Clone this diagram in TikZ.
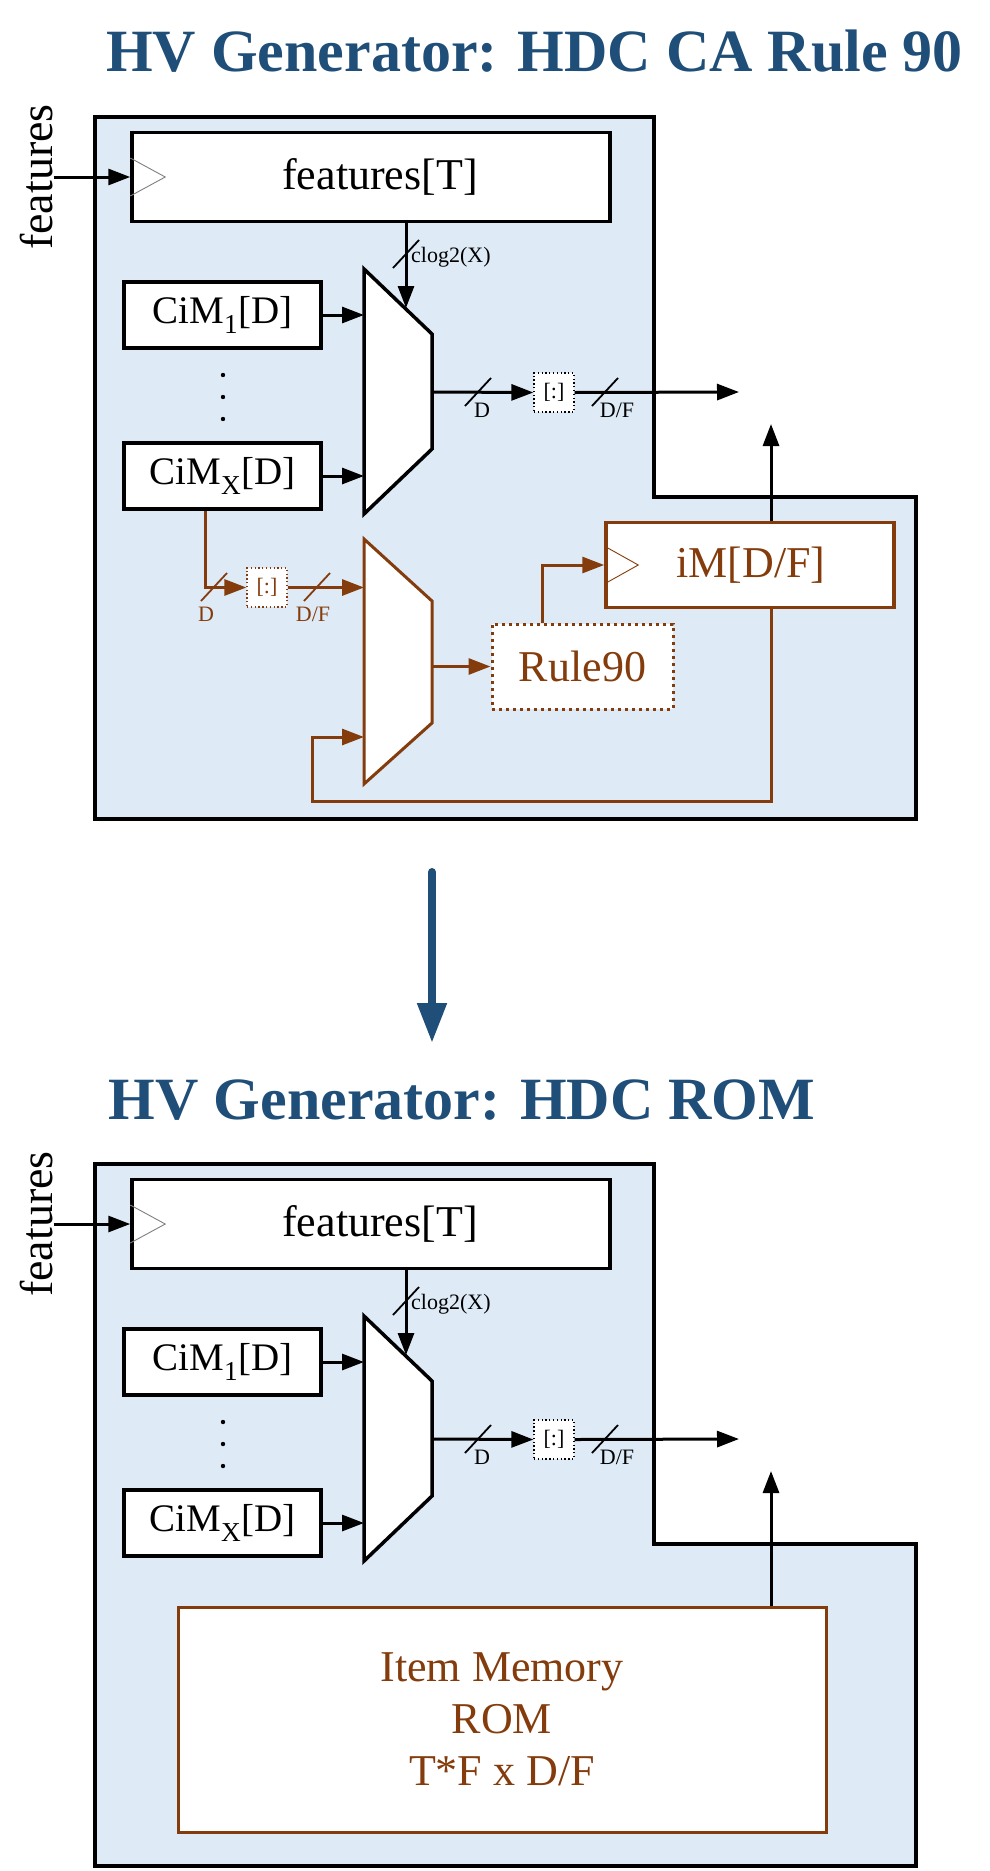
\documentclass[tikz,border=0pt]{standalone}
\usepackage{fontspec}
\setmainfont{Liberation Serif}
\usepackage{xcolor}
\usepackage{tikz}
\usetikzlibrary{arrows.meta,calc}
\definecolor{hvblue}{RGB}{31,78,121}
\definecolor{hvbrown}{RGB}{132,60,12}
\definecolor{hvfill}{RGB}{222,235,247}

\begin{document}
\begin{tikzpicture}[x=1pt,y=-1pt,
	wire/.style={line width=3pt,-{Triangle[length=22pt,width=16pt]}},
	reg/.style={draw,line width=3.5pt,fill=white,inner sep=0pt},
	big/.style={font=\fontsize{44}{52}\selectfont},
	cimfont/.style={font=\fontsize{39}{42}\selectfont},
	small/.style={font=\fontsize{22}{24}\selectfont,inner sep=0pt},
	slice/.style={draw,line width=1.3pt,dash pattern=on 1.3pt off 2.5pt,fill=white,minimum width=40pt,minimum height=39pt,inner sep=0pt,font=\fontsize{22}{24}\selectfont},
	tickmark/.style={line width=1.8pt},
	clk/.style={line width=0.9pt}]
			\useasboundingbox (0,0) rectangle (989,1871);
			\node[text=hvblue,font=\bfseries\fontsize{60}{64}\selectfont] (ttla) at (534.5,51) {HV Generator: HDC CA Rule 90};
			\node[text=hvblue,font=\bfseries\fontsize{60}{64}\selectfont] (ttlb) at (462,1100) {HV Generator: HDC ROM};
			\coordinate (dna) at (432,872);
			\coordinate (dnb) at (432,1043);
			\draw[hvblue,line width=8pt,line cap=round,-{Triangle[length=40pt,width=28pt]}] (dna) -- (dnb);
			\foreach \o/\n in {0/a,1047/b}{
				\begin{scope}[shift={(0,\o)}]
					\draw[line width=4.5pt,fill=hvfill] (95,117) -- (654,117) -- (654,497) -- (916,497) -- (916,819) -- (95,819) -- cycle;
					\node[reg,minimum width=478pt,minimum height=89pt,big] (feat\n) at (371,177) {\hspace*{18pt}features[T]};
					\draw[clk,gray] ([yshift=19pt]feat\n.west) -- ++(35,19) -- ++(-35,19);
					\node[rotate=90,inner sep=0pt,font=\fontsize{46}{48}\selectfont] (lbl\n) at (37,177) {features};
					\draw[wire] (lbl\n.south) -- (feat\n.west);
					\node[reg,minimum width=197pt,minimum height=66pt,cimfont] (cimone\n) at (222.5,315) {CiM\textsubscript{1}[D]};
					\node[reg,minimum width=197pt,minimum height=66pt,cimfont] (cimx\n) at (222.5,476) {CiM\textsubscript{X}[D]};
					\foreach \y in {375,397,419}
						\fill (223,\y) circle (2.2);
					\coordinate (mux\n-1) at (364,269);
					\coordinate (mux\n-2) at (432,334);
					\coordinate (mux\n-3) at (432,449);
					\coordinate (mux\n-4) at (364,514);
					\draw[line width=3.5pt,fill=white] (mux\n-1) -- (mux\n-2) -- (mux\n-3) -- (mux\n-4) -- cycle;
					\draw[wire] (cimone\n.east) -- (cimone\n.east -| mux\n-1);
					\draw[wire] (cimx\n.east) -- (cimx\n.east -| mux\n-1);
					\coordinate (sel\n) at (406,308);
					\draw[wire] (feat\n.south -| sel\n) -- (sel\n);
					\draw[tickmark] (406,254) ++(-13,14) -- ++(26,-28);
					\node[small,anchor=west] (clg\n) at (411,257) {clog2(X)};
					\coordinate (mo\n) at (432,392);
					\node[slice] (slc\n) at (554,392.5) {[:]};
					\coordinate (out\n) at (739,392);
					\draw[wire] (mo\n) -- (slc\n.west);
					\draw[wire] (slc\n.east) -- (out\n);
					\draw[tickmark] (478,392) ++(-13,14) -- ++(26,-28);
					\draw[tickmark] (605,392) ++(-13,14) -- ++(26,-28);
					\node[small] (wd\n) at (482,410) {D};
					\node[small] (wdf\n) at (617,410) {D/F};
					\coordinate (in\n) at (771,424);
				\end{scope}
			}
			\node[reg,draw=hvbrown,minimum width=288pt,minimum height=85pt,text=hvbrown,big] (im) at (750,565) {\hspace*{2pt}iM[D/F]};
			\draw[clk,hvbrown] ([yshift=19pt]im.west) -- ++(34,19) -- ++(-34,19);
			\node[reg,draw=hvbrown,line width=3pt,dash pattern=on 3pt off 4pt,minimum width=181pt,minimum height=85pt,text=hvbrown,big] (rule) at (582.5,666.5) {Rule90};
			\coordinate (muxc-1) at (364,539);
			\coordinate (muxc-2) at (432,601);
			\coordinate (muxc-3) at (432,723);
			\coordinate (muxc-4) at (364,784);
			\draw[line width=3pt,draw=hvbrown,fill=white] (muxc-1) -- (muxc-2) -- (muxc-3) -- (muxc-4) -- cycle;
			\coordinate (moc) at (432,666.5);
			\draw[wire,hvbrown] (moc) -- (rule.west);
			\draw[wire,hvbrown] ([xshift=-40.5pt]rule.north) |- (im.west);
			\draw[wire] (im.north -| ina) -- (ina);
			\coordinate (fb) at (312,801);
			\coordinate (fbin) at (364,737);
			\draw[wire,hvbrown] (im.south -| ina) |- (fb) |- (fbin);
			\node[slice,draw=hvbrown,text=hvbrown] (slcc) at (267,587.5) {[:]};
			\draw[wire,hvbrown] ([xshift=-17.5pt]cimxa.south) |- (slcc.west);
			\draw[wire,hvbrown] (slcc.east) -- (slcc.east -| muxc-1);
			\draw[tickmark,hvbrown] (214,587) ++(-13,14) -- ++(26,-28);
			\draw[tickmark,hvbrown] (317,587) ++(-13,14) -- ++(26,-28);
			\node[small,text=hvbrown] (wdc) at (206,614) {D};
			\node[small,text=hvbrown] (wdfc) at (313,614) {D/F};
			\node[reg,draw=hvbrown,line width=3pt,minimum width=648pt,minimum height=225pt,text=hvbrown,big,align=center] (rom) at (502,1719.5) {Item Memory\\ROM\\T*F x D/F};
			\draw[wire] (rom.north -| inb) -- (inb);
		\end{tikzpicture}
\end{document}
